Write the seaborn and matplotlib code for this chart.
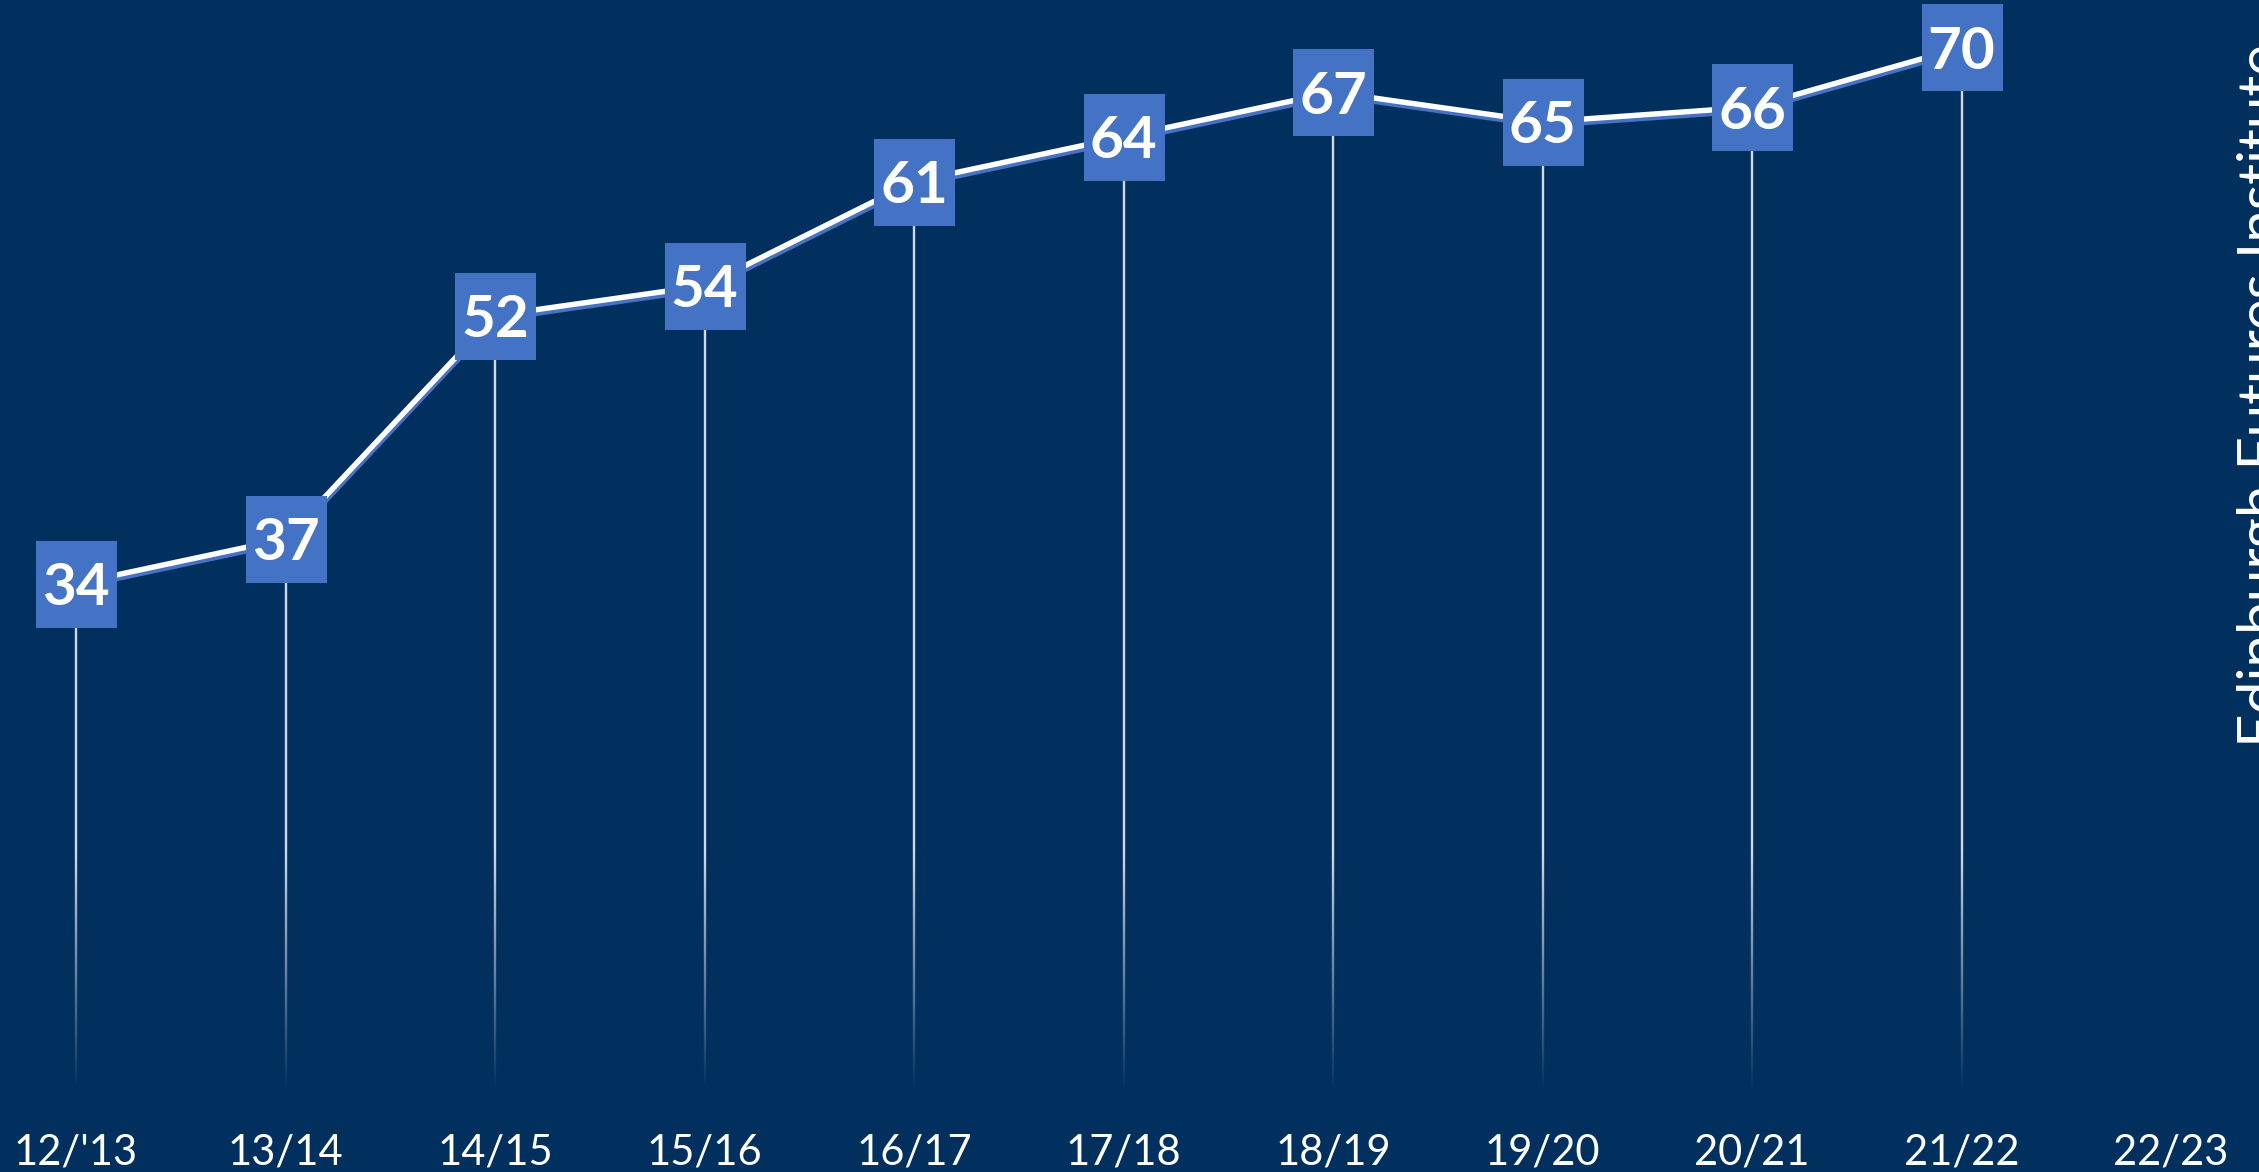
import numpy as np
import matplotlib
matplotlib.use("Agg")
import matplotlib.pyplot as plt
import matplotlib.patheffects as pe
from matplotlib.path import Path
from matplotlib.collections import LineCollection
import seaborn as sns
import pandas as pd

# ---- data ----
years = ["12/'13", "13/14", "14/15", "15/16", "16/17", "17/18",
         "18/19", "19/20", "20/21", "21/22", "22/23"]
values = [34, 37, 52, 54, 61, 64, 67, 65, 66, 70]
side_text = "Edinburgh Futures Institute"

BG = "#01305E"
MARK = "#4472C4"

df = pd.DataFrame({"pos": np.arange(len(values)), "value": values})

W, H, DPI = 2259, 1172, 100
fig = plt.figure(figsize=(W / DPI, H / DPI), dpi=DPI, facecolor=BG)
ax = fig.add_axes([0, 0, 1, 1])
ax.set_facecolor(BG)
ax.set_xlim(-0.363, 10.42)
ax.set_ylim(-5.52, 73.19)
for s in ax.spines.values():
    s.set_visible(False)
ax.set_xticks([])
ax.set_yticks([])

# ---- fading drop lines ----
fade_top = 16.0
segs, cols = [], []
for x, v in zip(df["pos"], df["value"]):
    ys = np.linspace(0, v, 300)
    for a, b in zip(ys[:-1], ys[1:]):
        segs.append([(x, a), (x, b)])
        alpha = float(np.clip(((a + b) / 2) / fade_top, 0, 1))
        cols.append((0.82, 0.85, 0.90, alpha))
lc = LineCollection(segs, colors=cols, linewidths=1.7, zorder=1)
ax.add_collection(lc)

# ---- main line with blue shadow ----
sns.lineplot(data=df, x="pos", y="value", ax=ax, color="white", linewidth=3.9,
             zorder=3, legend=False,
             path_effects=[pe.SimpleLineShadow(offset=(0.6, -2.5), shadow_color=MARK, alpha=1.0),
                           pe.Normal()])

# ---- rectangular markers ----
hw = 81 / 87 / 2
rect = Path([(-hw, -0.5), (hw, -0.5), (hw, 0.5), (-hw, 0.5), (-hw, -0.5)],
            [Path.MOVETO, Path.LINETO, Path.LINETO, Path.LINETO, Path.CLOSEPOLY])
msize_pt = 87 * 72 / DPI
sns.scatterplot(data=df, x="pos", y="value", ax=ax, marker=rect, s=msize_pt ** 2,
                color=MARK, linewidth=0, zorder=4, legend=False)

# ---- value labels ----
for x, v in zip(df["pos"], df["value"]):
    ax.annotate(str(v), (x, v), xytext=(0, -15.5), textcoords="offset points",
                ha="center", va="baseline", color="white", fontsize=42,
                fontweight="bold", family=["Lato", "DejaVu Sans"], zorder=5)

# ---- category labels ----
for i, lab in enumerate(years):
    ax.text(i, 0.0068, lab, transform=ax.get_xaxis_transform(), ha="center",
            va="baseline", color="white", fontsize=30, family=["Lato", "DejaVu Sans"])

ax.set_xlabel("")
ax.set_ylabel("")

# ---- side text ----
fig.text(2279 / W, 1 - 747 / H, side_text, rotation=90, rotation_mode="anchor",
         ha="left", va="baseline", color="white", fontsize=42,
         family=["Lato", "DejaVu Sans"])

fig.savefig("out.png", dpi=DPI, facecolor=BG)
